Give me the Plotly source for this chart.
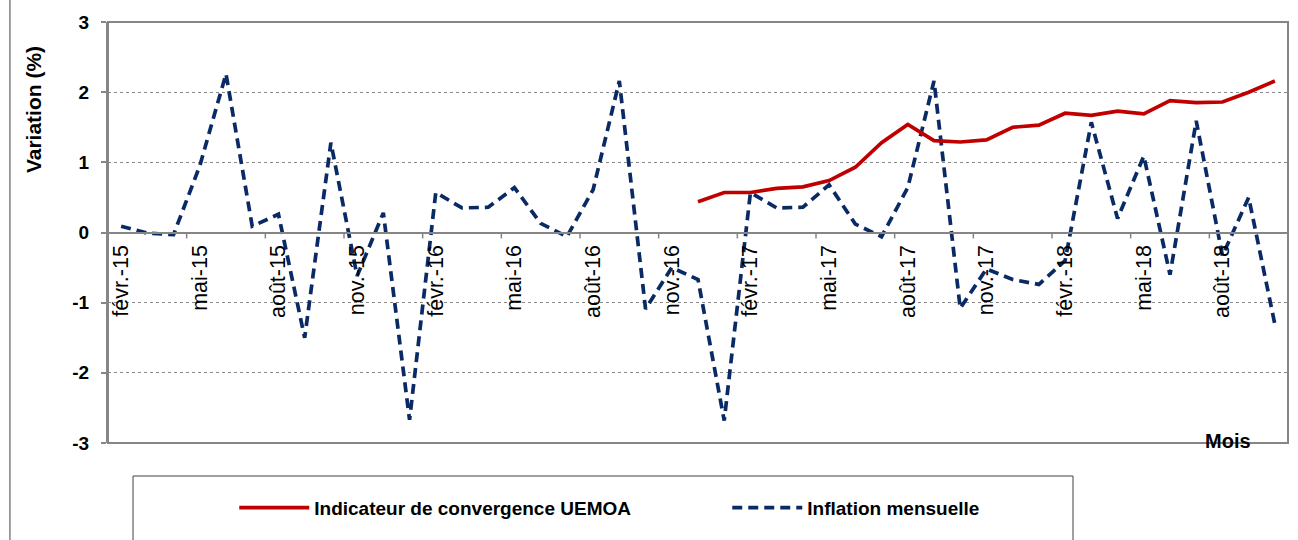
import plotly.graph_objects as go

months = ["févr.-15", "mars-15", "avr.-15", "mai-15", "juin-15", "juil.-15", "août-15", "sept.-15",
          "oct.-15", "nov.-15", "déc.-15", "janv.-16", "févr.-16", "mars-16", "avr.-16", "mai-16",
          "juin-16", "juil.-16", "août-16", "sept.-16", "oct.-16", "nov.-16", "déc.-16", "janv.-17",
          "févr.-17", "mars-17", "avr.-17", "mai-17", "juin-17", "juil.-17", "août-17", "sept.-17",
          "oct.-17", "nov.-17", "déc.-17", "janv.-18", "févr.-18", "mars-18", "avr.-18", "mai-18",
          "juin-18", "juil.-18", "août-18", "sept.-18", "oct.-18"]

inflation = [0.09, -0.01, -0.03, 0.95, 2.26, 0.09, 0.26, -1.50, 1.28, -0.62, 0.28, -2.67,
             0.57, 0.35, 0.36, 0.64, 0.13, -0.06, 0.61, 2.16, -1.09, -0.50, -0.67, -2.68,
             0.57, 0.35, 0.36, 0.68, 0.12, -0.06, 0.64, 2.16, -1.08, -0.52, -0.67, -0.74,
             -0.40, 1.57, 0.20, 1.09, -0.60, 1.59, -0.33, 0.50, -1.31]

convergence = [None] * 22 + [0.44, 0.57, 0.57, 0.63, 0.65, 0.74, 0.93, 1.28, 1.54, 1.31, 1.29,
                             1.32, 1.50, 1.53, 1.70, 1.67, 1.73, 1.69, 1.88, 1.85, 1.86, 2.00, 2.16]

tick_labels = months[::3]
y_ticks = [-3, -2, -1, 0, 1, 2, 3]

FONT = "Liberation Sans, Arial, sans-serif"
GRAY = "#868686"

fig = go.Figure()
fig.add_trace(go.Scatter(
    x=months, y=inflation, mode="lines", name="Inflation mensuelle",
    line=dict(color="#0A2A66", width=3.7, dash="10px,6px"), legendrank=2))
fig.add_trace(go.Scatter(
    x=months, y=convergence, mode="lines", name="Indicateur de convergence UEMOA",
    line=dict(color="#C00000", width=3.7), connectgaps=False, legendrank=1))

# tick marks on category boundaries (every 3 months)
shapes = []
for k in range(0, len(months) + 1, 3):
    shapes.append(dict(type="line", xref="x", yref="y", x0=k - 0.5, x1=k - 0.5,
                       ysizemode="pixel", yanchor=0, y0=0, y1=-6,
                       line=dict(color=GRAY, width=1.5)))
# plot frame
shapes.append(dict(type="rect", xref="paper", yref="paper", x0=0, x1=1, y0=0, y1=1,
                   line=dict(color=GRAY, width=2)))
# legend box
shapes.append(dict(type="rect", xref="paper", yref="paper", x0=0.0212, x1=0.8178,
                   y0=-0.0784, y1=-0.30, line=dict(color="#404040", width=1)))
# outer left border of chart area
shapes.append(dict(type="line", xref="paper", yref="paper", x0=-0.0831, x1=-0.0831,
                   y0=-0.3, y1=1.1, line=dict(color="#404040", width=1)))

fig.update_layout(
    width=1298, height=540,
    margin=dict(l=108, r=10, t=22, b=97, autoexpand=False),
    paper_bgcolor="white", plot_bgcolor="white",
    font=dict(family=FONT, color="black"),
    shapes=shapes,
    showlegend=True,
    legend=dict(orientation="h", x=0.107, xanchor="left", y=-0.154, yanchor="middle",
                font=dict(size=19, family=FONT, weight="bold"), itemwidth=70,
                entrywidth=408, entrywidthmode="pixels", bgcolor="rgba(0,0,0,0)"),
    annotations=[
        dict(text="Variation (%)", xref="paper", yref="paper", x=-0.0636, y=0.793,
             xanchor="center", yanchor="middle",
             textangle=-90, showarrow=False, font=dict(size=21, family=FONT, weight="bold")),
        dict(text="Mois", xref="paper", yref="paper", x=0.949, y=0.005,
             xanchor="center", yanchor="middle", showarrow=False,
             font=dict(size=20, family=FONT, weight="bold")),
    ],
)

fig.update_xaxes(
    type="category", range=[-0.5, len(months) - 0.5],
    tickvals=tick_labels, ticktext=tick_labels, tickangle=-90,
    tickfont=dict(size=21.5, family=FONT, color="black"),
    anchor="free", position=0.5, automargin=False,
    showline=True, linecolor=GRAY, linewidth=2,
    ticks="", showgrid=False, zeroline=False, ticklabelstandoff=3,
)

fig.update_yaxes(
    range=[-3, 3], tickvals=y_ticks, ticktext=[str(v) for v in y_ticks],
    tickfont=dict(size=19, family=FONT, color="black", weight="bold"),
    ticks="outside", ticklen=5, tickcolor=GRAY, tickwidth=1.5, automargin=False,
    showline=True, linecolor=GRAY, linewidth=2,
    showgrid=True, gridcolor="#8a8a8a", griddash="dot", gridwidth=1,
    zeroline=False, ticklabelstandoff=8,
)

fig.write_html("out.html", config={"displayModeBar": False},
               post_script="document.body.style.margin='0';document.body.style.overflow='hidden';")
